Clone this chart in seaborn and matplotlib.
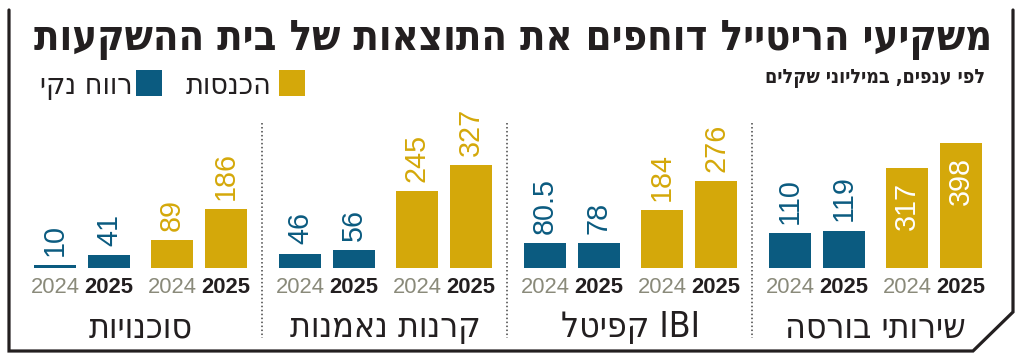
import re
import matplotlib
matplotlib.use("Agg")
import matplotlib.pyplot as plt
from matplotlib import font_manager as fm
from matplotlib.patches import Rectangle
import pandas as pd
import seaborn as sns

# ---------------- data ----------------
groups = ["סוכנויות", "קרנות נאמנות", "IBI קפיטל", "שירותי בורסה"]
series_names = ["רווח נקי", "הכנסות"]
years = ["2024", "2025"]
profit_2024 = [10, 46, 80.5, 110]
profit_2025 = [41, 56, 78, 119]
revenue_2024 = [89, 245, 184, 317]
revenue_2025 = [186, 327, 276, 398]
title = "משקיעי הריטייל דוחפים את התוצאות של בית ההשקעות"
subtitle = "לפי ענפים, במיליוני שקלים"

# ---------------- style ----------------
BLUE = "#0b5b80"
GOLD = "#d4a80a"
GREY = "#8a8a7a"
INK = "#231f20"

W, H, DPI = 1024, 363, 100
BASE = 268            # baseline, px from top
SCALE = 0.315         # px per unit
G0, GP = 34, 245      # first group left edge, group pitch (px)
SLOTS = [0, 54, 117, 171]
BAR_W = 42


def vis(s):
    """logical RTL string -> visual LTR order for matplotlib"""
    r = s[::-1]
    return re.sub(r"[A-Za-z0-9.]+", lambda m: m.group(0)[::-1], r)


avail = {f.name for f in fm.fontManager.ttflist}
NARROW = [f for f in ["Liberation Sans Narrow", "Liberation Sans", "DejaVu Sans"] if f in avail]
HEB = ["DejaVu Sans"]
cond_ok = any(("Condensed" in f.fname) and f.name == "DejaVu Sans" for f in fm.fontManager.ttflist)
HEB_STRETCH = "condensed" if cond_ok else "normal"

sns.set_theme(style="white")
plt.rcParams["font.family"] = ["DejaVu Sans"]

fig = plt.figure(figsize=(W / DPI, H / DPI), dpi=DPI, facecolor="white")
ov = fig.add_axes([0, 0, 1, 1])
ov.set_xlim(0, W)
ov.set_ylim(H, 0)
ov.axis("off")

ax = fig.add_axes([0, (H - BASE) / H, 1, BASE / H])
ax.patch.set_alpha(0)

# ---------------- table ----------------
rows = []
vals = {("רווח נקי", "2024"): profit_2024, ("רווח נקי", "2025"): profit_2025,
        ("הכנסות", "2024"): revenue_2024, ("הכנסות", "2025"): revenue_2025}
order = [("רווח נקי", "2024"), ("רווח נקי", "2025"), ("הכנסות", "2024"), ("הכנסות", "2025")]
for g, name in enumerate(groups):
    for k, (s, y) in enumerate(order):
        rows.append(dict(group=name, series=s, year=y, value=vals[(s, y)][g],
                         x=G0 + GP * g + SLOTS[k] + BAR_W / 2))
df = pd.DataFrame(rows)

min_gap = min(SLOTS[i + 1] - SLOTS[i] for i in range(3))
sns.barplot(data=df, x="x", y="value", hue="series", orient="x",
            palette={"רווח נקי": BLUE, "הכנסות": GOLD}, native_scale=True,
            dodge=False, width=BAR_W / min_gap, saturation=1, errorbar=None,
            legend=False, linewidth=0, ax=ax)
ax.set_xlim(0, W)
ax.set_ylim(0, BASE / SCALE)
for sp in ax.spines.values():
    sp.set_visible(False)
ax.set_ylabel("")
ax.set_xlabel("")
ax.set_yticks([])
ax.set_xticks(df["x"].tolist())
ax.set_xticklabels(df["year"].tolist())
ax.tick_params(axis="x", length=0, pad=6.5)

r = fig.canvas.get_renderer()


def fit(t, target):
    bb = t.get_window_extent(r)
    t.set_fontsize(t.get_fontsize() * target / bb.width)


# year tick labels sized so "2025" is ~49 px wide
probe = fig.text(0, 0, "2025", fontsize=20, family=NARROW)
fit(probe, 49)
YEAR_FS = probe.get_fontsize()
probe.remove()
for lab, yr in zip(ax.get_xticklabels(), df["year"]):
    lab.set_fontfamily(NARROW)
    lab.set_fontsize(YEAR_FS)
    if yr == "2024":
        lab.set_color(GREY)
    else:
        lab.set_color(INK)
        lab.set_fontweight("bold")

# value label size so "186" spans ~47 px
probe = fig.text(0, 0, "186", fontsize=20, family=NARROW)
fit(probe, 48)
VAL_FS = probe.get_fontsize()
probe.remove()

# ---------------- header ----------------
t_title = ov.text(992, 50, vis(title), ha="right", va="baseline", color=INK,
                  fontsize=26, fontweight="bold", family=HEB, fontstretch=HEB_STRETCH)
fit(t_title, 959)
t_sub = ov.text(985, 83, vis(subtitle), ha="right", va="baseline", color=INK,
                fontsize=14, fontweight="bold", family=HEB, fontstretch=HEB_STRETCH)
fit(t_sub, 220)

# legend
for (x0, col) in [(279, GOLD), (136, BLUE)]:
    ov.add_patch(Rectangle((x0, 70), 26, 26, facecolor=col, edgecolor="none"))
t_l1 = ov.text(272, 94, vis(series_names[1]), ha="right", va="baseline", color=INK,
               fontsize=16, family=HEB, fontstretch=HEB_STRETCH)
t_l2 = ov.text(133, 94, vis(series_names[0]), ha="right", va="baseline", color=INK,
               fontsize=16, family=HEB, fontstretch=HEB_STRETCH)
fit(t_l2, 93)
t_l1.set_fontsize(t_l2.get_fontsize())

# group names
gts = []
for g, name in enumerate(groups):
    cx = G0 + GP * g + (SLOTS[-1] + BAR_W) / 2
    gts.append(ov.text(cx, 337, vis(name), ha="center", va="baseline", color=INK,
                       fontsize=18, family=HEB, fontstretch=HEB_STRETCH))
fit(gts[3], 181)
for t in gts:
    t.set_fontsize(gts[3].get_fontsize())

# separators
for g in range(1, len(groups)):
    xs = G0 + GP * g - 17
    ov.plot([xs, xs], [123, 338], color="#444444", lw=1.1, ls=(0, (1, 1.6)))

# frame
ov.plot([9, 9, 973, 1013, 1013], [10, 351, 351, 312, 10], color=INK, lw=2.3,
        solid_joinstyle="miter")

# ---------------- value labels ----------------
sb = t_sub.get_window_extent(r)
sub_left, sub_bottom = sb.x0, H - sb.y0
for _, row in df.iterrows():
    col = BLUE if row["series"] == "רווח נקי" else GOLD
    t = ax.annotate(f"{row['value']:g}", (row["x"], row["value"]), xytext=(0, 6.5),
                    textcoords="offset points", rotation=90, ha="center", va="bottom",
                    color=col, fontsize=VAL_FS, family=NARROW)
    bb = t.get_window_extent(r)
    top = H - bb.y1
    if row["x"] >= sub_left - 20 and top < sub_bottom + 40:
        t.set_va("top")
        t.xyann = (0, -10)
        t.set_color("white")

fig.savefig("out.png", dpi=DPI, facecolor="white")
